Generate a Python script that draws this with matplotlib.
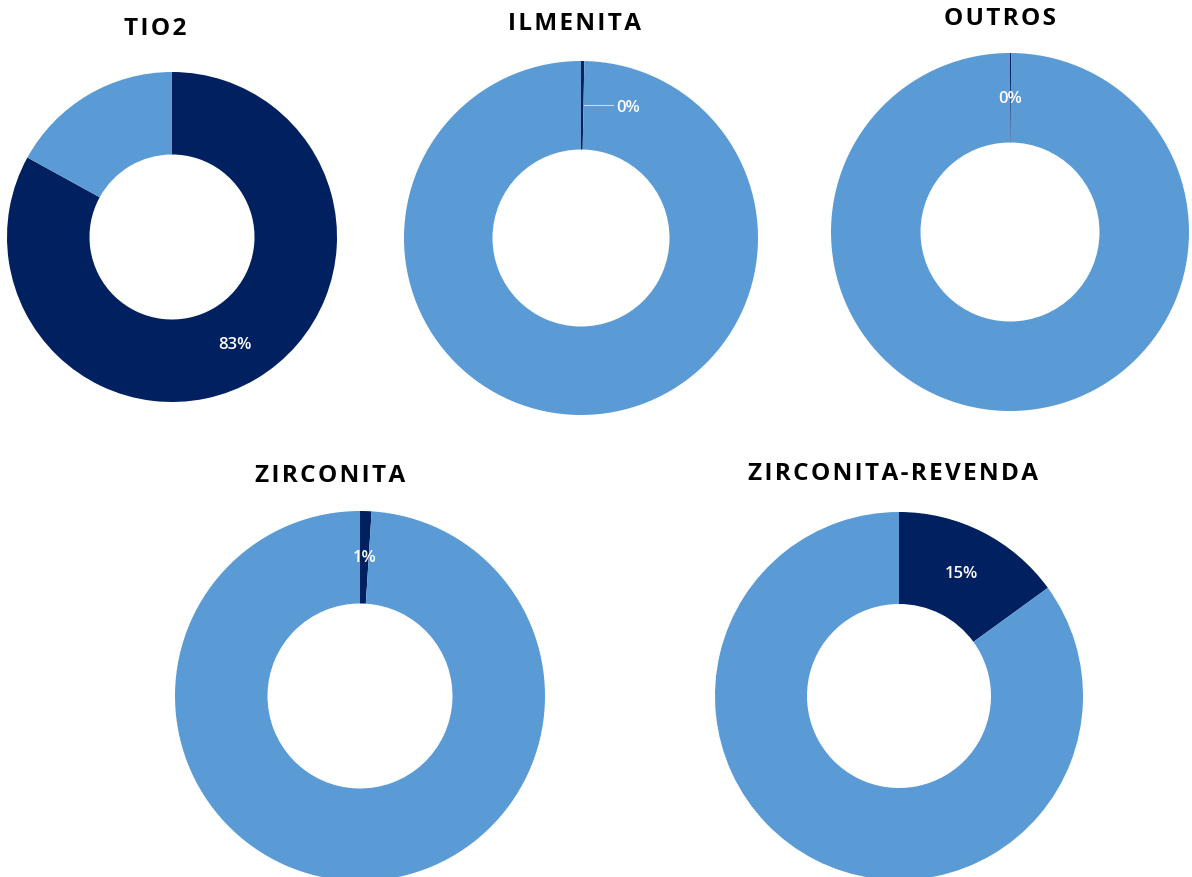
import matplotlib.pyplot as plt
import numpy as np

# chart data: share of the dark slice (%), rest is the light slice
titles = ['TIO2', 'ILMENITA', 'OUTROS', 'ZIRCONITA', 'ZIRCONITA-REVENDA']
dark_share = [83, 0.3, 0.1, 1, 15]
light_share = [17, 99.7, 99.9, 99, 85]

dark = '#002060'
light = '#5b9bd5'

W, H = 1192, 877

# layout in pixels (image coords, y down): centre x, centre y, radius
layout = [
    (172, 237, 165),
    (581, 238, 177),
    (1010, 232, 179),
    (360, 696, 185),
    (899, 696, 184),
]
title_pos = [(155, 29), (575, 24), (1000, 19), (330, 476), (893, 474)]
# label shift in pixels (only ILMENITA has a leader line)
label_shift = [0, 46, 0, 0, 0]

plt.rcParams['font.family'] = ['Open Sans', 'DejaVu Sans']

fig = plt.figure(figsize=(W / 100, H / 100), dpi=100)
ax = fig.add_axes([0, 0, 1, 1])

for i, name in enumerate(titles):
    cx, cy, r = layout[i]
    cy = H - cy
    vals = [dark_share[i], light_share[i]]
    ax.pie(vals, colors=[dark, light], startangle=90, counterclock=False,
           center=(cx, cy), radius=r, frame=True,
           wedgeprops=dict(width=r * 0.5, linewidth=0))

    # percentage label on the dark slice, middle of the ring
    total = sum(vals)
    ang = np.deg2rad(90 - 360 * (vals[0] / 2) / total)
    rm = r * 0.75
    lx, ly = cx + rm * np.cos(ang), cy + rm * np.sin(ang)
    txt = '{:.0f}%'.format(vals[0] / total * 100)
    if label_shift[i]:
        ax.plot([lx + 2, lx + label_shift[i] - 15], [ly, ly],
                color='#c9d9ee', lw=0.8)
        ax.text(lx + label_shift[i], ly - 3, txt, color='white',
                fontsize=12, fontweight='semibold', ha='center', va='center')
    else:
        ax.text(lx, ly - 1, txt, color='white', fontsize=12,
                fontweight='semibold', ha='center', va='center')

    # titles are letter-spaced in the original
    tx, ty = title_pos[i]
    spaced = '\u200a'.join(name)
    ax.text(tx, H - ty, spaced, fontsize=17.5, fontweight='bold',
            ha='center', va='center', color='black')

ax.set_xlim(0, W)
ax.set_ylim(0, H)
ax.axis('off')

fig.savefig('out.png', dpi=100)
